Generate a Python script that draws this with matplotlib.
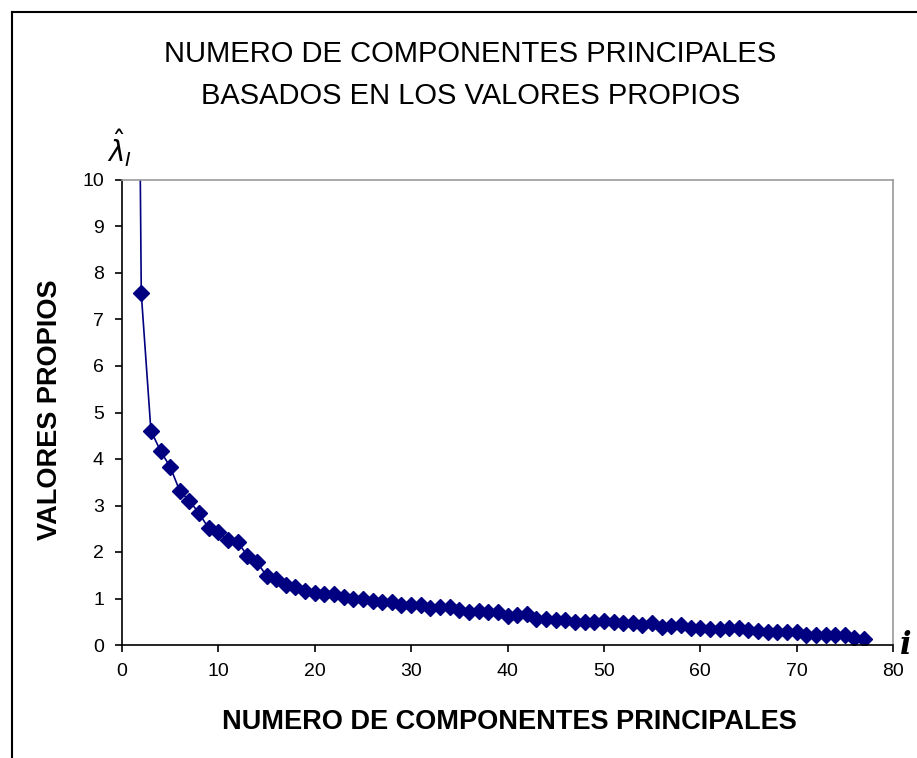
import numpy as np
import matplotlib.pyplot as plt
from matplotlib.lines import Line2D

# valores propios estimados a partir de la figura (i = 1..77)
componentes = list(range(1, 78))
valores_propios = [
    32.0, 7.56, 4.61, 4.17, 3.83, 3.31, 3.10, 2.83, 2.51, 2.42,
    2.26, 2.22, 1.92, 1.78, 1.49, 1.43, 1.30, 1.25, 1.16, 1.12,
    1.09, 1.09, 1.04, 0.99, 0.99, 0.95, 0.92, 0.93, 0.87, 0.85,
    0.87, 0.80, 0.82, 0.82, 0.75, 0.72, 0.74, 0.72, 0.70, 0.62,
    0.65, 0.67, 0.56, 0.56, 0.54, 0.54, 0.50, 0.50, 0.50, 0.52,
    0.50, 0.47, 0.47, 0.43, 0.47, 0.39, 0.41, 0.43, 0.36, 0.36,
    0.34, 0.34, 0.36, 0.36, 0.32, 0.31, 0.29, 0.29, 0.29, 0.27,
    0.22, 0.21, 0.22, 0.22, 0.22, 0.14, 0.13,
]
x_ticks = [0, 10, 20, 30, 40, 50, 60, 70, 80]
y_ticks = list(range(0, 11))

titulo = "NUMERO DE COMPONENTES PRINCIPALES\nBASADOS EN LOS VALORES PROPIOS"
etiqueta_x = "NUMERO DE COMPONENTES PRINCIPALES"
etiqueta_y = "VALORES PROPIOS"

plt.rcParams['font.family'] = ['Liberation Sans', 'DejaVu Sans']

fig = plt.figure(figsize=(9.17, 7.58), dpi=100)
ax = fig.add_axes([122 / 917, 1 - 645 / 758, (893 - 122) / 917, (645 - 180) / 758])

ax.plot(componentes, valores_propios, color='#000080', linewidth=1.2,
        marker='D', markersize=8, markeredgecolor='#000080',
        markerfacecolor='#000080')

ax.set_xlim(0, 80)
ax.set_ylim(0, 10)
ax.set_xticks(x_ticks)
ax.set_yticks(y_ticks)
ax.tick_params(direction='out', length=5, width=1.2, labelsize=14, pad=8)

for lado in ['top', 'right']:
    ax.spines[lado].set_color('#9a9a9a')
    ax.spines[lado].set_linewidth(1.2)
for lado in ['left', 'bottom']:
    ax.spines[lado].set_color('black')
    ax.spines[lado].set_linewidth(1.2)

# titulo y etiquetas
fig.text(0.513, 1 - 75 / 758, titulo, ha='center', va='center',
         fontsize=21, linespacing=1.65)
fig.text(0.555, 1 - 722 / 758, etiqueta_x, ha='center', va='center',
         fontsize=19.5, fontweight='bold')
fig.text(50 / 917, 1 - 410 / 758, etiqueta_y, ha='center', va='center',
         fontsize=19.5, fontweight='bold', rotation=90)
fig.text(120 / 917, 1 - 148 / 758, r'$\hat{\lambda}_I$', ha='center', va='center',
         fontsize=20)
fig.text(906 / 917, 1 - 645 / 758, 'i', ha='center', va='center',
         fontsize=22, family='DejaVu Serif', style='italic', fontweight='bold')

# marco exterior (solo izquierdo y superior visibles)
fig.add_artist(Line2D([12 / 917, 12 / 917], [0, 1 - 12 / 758], color='black',
                      linewidth=1.5, transform=fig.transFigure))
fig.add_artist(Line2D([12 / 917, 1], [1 - 12 / 758, 1 - 12 / 758], color='black',
                      linewidth=1.5, transform=fig.transFigure))

fig.savefig('out.png', dpi=100)
